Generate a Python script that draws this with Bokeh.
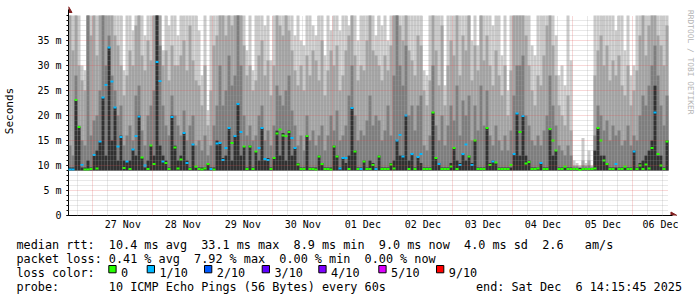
import re
from datetime import datetime, timezone, timedelta

import numpy as np
from bokeh.plotting import figure
from bokeh.models import (ColumnDataSource, FixedTicker, Grid, DatetimeTickFormatter, Range1d)
from bokeh.layouts import column, row
from bokeh.embed import file_html
from bokeh.resources import INLINE
from bokeh.core.properties import value

# ---------------------------------------------------------------- data
START = datetime(2025, 11, 26, 14, 15, 45, tzinfo=timezone.utc)
END = datetime(2025, 12, 6, 14, 15, 45, tzinfo=timezone.utc)
STEP_MINUTES = 72          # one smoke column = 72 min

SMOKE_FLOOR_MS = 9.0       # fastest ping (bottom of the smoke)
Y_MAX = 40                 # rigid upper limit of the graph

# top of the outermost (lightest) smoke band, ms (40.5 = off the chart)
smoke_light = [
    40.5, 40.5, 40.5, 40.5, 30, 29, 40.5, 40.5, 40.5, 40.5,
    40.5, 40.5, 40.5, 40.5, 40.5, 40.5, 40.5, 40.5, 29, 40.5,
    40.5, 37, 40.5, 40.5, 40.5, 36, 40.5, 40.5, 40.5, 40.5,
    40.5, 33, 40.5, 38, 40.5, 40.5, 36, 40.5, 40.5, 40.5,
    40.5, 40.5, 40.5, 37, 28, 40.5, 21, 40.5, 40.5, 40.5,
    40.5, 40.5, 40.5, 40.5, 40.5, 40.5, 40.5, 40.5, 40.5, 33,
    40.5, 29, 40.5, 40.5, 40.5, 38, 40.5, 31, 40.5, 40.5,
    40.5, 40.5, 40.5, 40.5, 40.5, 36, 40.5, 35, 34, 40.5,
    40.5, 38, 36, 40.5, 40.5, 32, 40.5, 37, 40.5, 40.5,
    37, 40.5, 40.5, 38, 40.5, 40.5, 35, 40.5, 40.5, 40.5,
    40.5, 40.5, 36, 40.5, 38, 40.5, 35, 40.5, 40.5, 40.5,
    40.5, 40.5, 40.5, 40.5, 40.5, 40.5, 40.5, 40.5, 29, 28,
    40.5, 40.5, 40.5, 40.5, 40.5, 26, 40.5, 40.5, 40.5, 40.5,
    40.5, 40.5, 40.5, 40.5, 35, 40.5, 34, 40.5, 40.5, 40.5,
    40.5, 38, 40.5, 40.5, 32, 40.5, 25, 40.5, 40.5, 40.5,
    40.5, 40.5, 40.5, 40.5, 34, 32, 40.5, 40.5, 40.5, 40.5,
    40.5, 40.5, 36, 28, 30, 26, 40.5, 31, 11, 10.5,
    10, 15.5, 10.5, 13, 10, 40.5, 40.5, 40.5, 40.5, 40.5,
    40.5, 40.5, 37, 40.5, 40.5, 33, 40.5, 28, 30, 40.5,
    40.5, 40.5, 40.5, 40.5, 40.5, 40.5, 40.5, 40.5, 40.5, 40.5,
]
# top of the second band
smoke_mid = [
    40.5, 33, 40.5, 30, 27, 25, 40.5, 36, 40.5, 32,
    40.5, 40.5, 40.5, 40.5, 40.5, 36, 34, 30, 24, 28,
    33, 30, 38, 40.5, 32, 29, 35, 31, 40.5, 40.5,
    40.5, 30, 33, 27, 34, 30, 30, 32, 35, 29,
    38, 31, 27, 26, 22, 30, 18, 25, 34, 36,
    40.5, 40.5, 36, 40.5, 38, 40.5, 40.5, 40.5, 34, 28,
    30, 25, 27, 32, 35, 28, 31, 24, 30, 40.5,
    38, 36, 40.5, 37, 33, 29, 26, 30, 25, 32,
    28, 33, 31, 27, 35, 24, 29, 33, 30, 34,
    25, 28, 33, 36, 40.5, 32, 27, 30, 29, 35,
    40.5, 33, 32, 30, 27, 32, 29, 34, 40.5, 40.5,
    38, 35, 40.5, 33, 31, 28, 36, 34, 25, 22,
    27, 40.5, 33, 26, 38, 22, 30, 35, 32, 40.5,
    28, 36, 33, 40.5, 27, 34, 29, 40.5, 31, 36,
    30, 26, 33, 28, 24, 30, 20, 29, 40.5, 40.5,
    40.5, 40.5, 36, 30, 25, 22, 28, 26, 32, 38,
    40.5, 34, 28, 22, 20, 18, 24, 17, 10, 10,
    9.8, 11, 10, 11, 9.8, 28, 33, 36, 30, 34,
    27, 31, 28, 32, 26, 24, 30, 22, 25, 29,
    36, 40.5, 32, 38, 40.5, 40.5, 36, 34, 30, 38,
]
# top of the third band
smoke_dark = [
    14, 12, 28, 18, 15, 14, 40.5, 16, 19, 20,
    25, 40.5, 30, 36, 28, 25, 20, 22, 14, 16,
    18, 15, 24, 26, 17, 14, 20, 22, 25, 40.5,
    34, 22, 18, 16, 24, 20, 18, 16, 21, 15,
    18, 20, 14, 15, 13, 16, 12, 14, 18, 22,
    30, 22, 25, 32, 26, 28, 40.5, 30, 20, 16,
    18, 15, 16, 20, 22, 15, 17, 14, 18, 26,
    24, 22, 25, 28, 21, 18, 14, 16, 13, 20,
    15, 17, 14, 16, 18, 13, 16, 20, 17, 21,
    15, 16, 18, 24, 30, 20, 15, 17, 16, 19,
    24, 18, 20, 19, 15, 17, 22, 16, 28, 40.5,
    30, 26, 34, 20, 22, 17, 22, 24, 14, 13,
    16, 30, 18, 15, 20, 14, 18, 22, 19, 26,
    16, 23, 20, 24, 15, 22, 17, 26, 18, 25,
    16, 14, 18, 15, 13, 16, 13, 17, 24, 30,
    30, 32, 20, 18, 15, 14, 16, 14, 17, 20,
    28, 22, 18, 14, 13, 12, 14, 12, 9.8, 9.8,
    9.6, 10, 9.8, 10, 9.6, 16, 22, 20, 17, 19,
    15, 18, 16, 17, 14, 15, 18, 14, 16, 15,
    20, 24, 22, 26, 30, 34, 28, 22, 18, 24,
]
# top of the innermost (darkest) band
smoke_core = [
    9.6, 9.6, 23.1, 17.7, 9.6, 9.6, 11, 9.6, 12.1, 13,
    14.8, 23.6, 12, 33.6, 15, 21.6, 11, 16, 11, 10.8,
    11, 13.2, 12, 20, 11.6, 9.6, 11, 14, 12, 40.5,
    14, 12, 11, 9.6, 20, 14, 11, 12, 16.5, 11,
    9.6, 14.2, 9.6, 9.6, 9.6, 9.6, 10.3, 9.6, 9.6, 15,
    14.5, 11.5, 12, 17.5, 11, 16, 22.3, 12, 13.8, 9.6,
    14, 9.6, 12.8, 11, 17.5, 11, 11.5, 9.6, 11.5, 17,
    12, 16.5, 11, 17, 12, 13.5, 10.5, 9.6, 9.6, 16,
    9.6, 9.6, 9.6, 12, 10.5, 9.6, 9.6, 9.6, 14, 12,
    9.6, 11.5, 10.5, 12, 21.5, 13, 9.6, 9.6, 11, 9.6,
    11, 10.5, 9.6, 12, 9.6, 9.6, 9.6, 10.5, 11, 15,
    12, 12, 20, 11, 12.3, 9.6, 11.7, 10.5, 9.6, 9.6,
    9.6, 20.6, 11.5, 10.5, 9.6, 9.6, 9.6, 10.5, 13.5, 11,
    10.5, 12.3, 11, 12, 10.5, 15, 9.6, 9.6, 9.6, 17.5,
    10.5, 11, 10.5, 9.6, 9.6, 9.6, 9.6, 9.6, 12.3, 20.4,
    12, 20, 12, 11, 9.6, 9.6, 9.6, 10.5, 9.6, 9.6,
    17.3, 12, 13, 9.6, 9.6, 9.6, 9.6, 9.6, 9.5, 9.5,
    9.5, 9.5, 9.5, 9.5, 9.5, 13, 17.5, 12, 12, 10.5,
    9.6, 9.6, 9.6, 9.6, 9.6, 9.6, 9.6, 9.6, 13, 9.6,
    10.5, 11, 12, 13, 15, 26, 12, 12, 9.6, 15,
]
# median rtt, ms
median_rtt = [
    9.2, 9.2, 23.1, 17.7, 10.1, 9.2, 9.2, 9.3, 12.1, 9.4,
    14.8, 23.6, 26.1, 33.6, 26.8, 21.6, 13.8, 15.7, 9.5, 10.8,
    9.3, 13.2, 15.9, 19.8, 11.6, 10.0, 9.3, 14.0, 10.3, 30.7,
    26.9, 10.8, 10.5, 9.3, 19.7, 13.6, 9.4, 11.2, 16.5, 10.5,
    9.3, 14.2, 9.8, 9.3, 9.2, 9.4, 10.3, 9.3, 9.2, 14.4,
    14.5, 11.1, 13.5, 17.5, 14.5, 15.9, 22.3, 16.7, 13.8, 9.3,
    13.8, 9.3, 12.8, 13.5, 17.5, 11.3, 11.1, 9.3, 11.5, 16.4,
    17.2, 16.0, 15.9, 16.7, 15.5, 13.5, 10.2, 9.3, 9.3, 15.9,
    9.3, 9.3, 9.2, 11.8, 10.3, 9.3, 9.3, 9.2, 13.8, 11.8,
    9.4, 11.5, 11.5, 9.3, 21.5, 12.8, 9.3, 9.3, 10.8, 9.3,
    9.3, 10.1, 9.3, 11.8, 9.3, 9.3, 9.3, 10.2, 9.4, 15.0,
    16.1, 11.8, 20.0, 9.3, 12.3, 9.3, 11.7, 12.3, 9.3, 9.3,
    9.3, 20.6, 11.5, 10.3, 9.3, 9.3, 9.3, 9.8, 13.5, 9.3,
    10.1, 12.3, 14.2, 11.8, 10.1, 15.0, 9.3, 9.3, 9.3, 17.5,
    10.1, 10.8, 10.6, 9.3, 9.3, 9.3, 9.3, 10.1, 12.3, 20.4,
    16.7, 19.9, 10.4, 10.7, 9.3, 9.3, 9.4, 10.5, 9.3, 9.3,
    17.3, 15.0, 13.0, 9.3, 9.3, 9.8, 9.3, 9.3, 9.3, 9.3,
    9.1, 9.3, 9.3, 9.3, 9.3, 9.4, 17.5, 15.0, 11.0, 10.3,
    9.3, 9.3, 10.3, 9.3, 9.3, 9.8, 9.3, 9.3, 12.8, 9.3,
    10.0, 9.3, 10.2, 9.4, 13.5, 20.6, 12.3, 10.0, 9.3, 14.8,
]
# lost pings out of 10
lost_pings = [
    1, 1, 0, 0, 1, 0, 0, 0, 1, 0,
    1, 1, 1, 1, 1, 1, 1, 1, 0, 1,
    0, 1, 1, 1, 0, 1, 0, 0, 0, 1,
    1, 1, 0, 0, 1, 0, 0, 0, 1, 1,
    0, 1, 0, 0, 0, 0, 0, 1, 0, 1,
    1, 1, 1, 1, 0, 1, 1, 1, 0, 0,
    0, 0, 0, 1, 1, 1, 1, 0, 0, 0,
    0, 0, 0, 0, 1, 1, 0, 0, 0, 0,
    0, 0, 0, 0, 0, 0, 0, 0, 0, 0,
    1, 1, 1, 0, 1, 0, 0, 1, 0, 0,
    0, 0, 1, 0, 0, 0, 0, 0, 0, 1,
    1, 1, 1, 0, 1, 0, 1, 1, 0, 0,
    0, 0, 0, 1, 0, 0, 0, 0, 0, 0,
    1, 1, 1, 0, 1, 0, 0, 0, 0, 0,
    0, 1, 0, 0, 0, 0, 0, 0, 1, 1,
    0, 1, 0, 0, 0, 0, 0, 1, 0, 0,
    0, 0, 0, 0, 0, 0, 0, 0, 0, 0,
    0, 0, 0, 0, 0, 0, 0, 0, 0, 0,
    0, 0, 1, 0, 0, 0, 0, 0, 1, 0,
    0, 0, 0, 0, 0, 1, 0, 0, 0, 0,
]

loss_levels = [0, 1, 2, 3, 4, 5, 9]
loss_labels = ["0", "1/10", "2/10", "3/10", "4/10", "5/10", "9/10"]
loss_colors = ["#26ff00", "#00b8ff", "#0059ff", "#5e00ff", "#7e00ff", "#dd00ff", "#ff0000"]

y_ticks = [0, 5, 10, 15, 20, 25, 30, 35]
y_tick_labels = ["0", "5 m", "10 m", "15 m", "20 m", "25 m", "30 m", "35 m"]

legend_rows = [
    "median rtt:  10.4 ms avg  33.1 ms max  8.9 ms min  9.0 ms now  4.0 ms sd  2.6   am/s",
    "packet loss: 0.41 % avg  7.92 % max  0.00 % min  0.00 % now",
    "loss color:",
    "probe:       10 ICMP Echo Pings (56 Bytes) every 60s",
]
end_text = "end: Sat Dec  6 14:15:45 2025"
watermark = "RRDTOOL / TOBI OETIKER"

N = len(median_rtt)
for arr in (smoke_light, smoke_mid, smoke_dark, smoke_core, lost_pings):
    assert len(arr) == N

# ---------------------------------------------------------------- helpers
def ms(dt):
    return dt.timestamp() * 1000.0

def clip(arr):
    return [min(v, Y_MAX) for v in arr]

lefts = [ms(START + timedelta(minutes=STEP_MINUTES * i)) for i in range(N)]
rights = [ms(START + timedelta(minutes=STEP_MINUTES * (i + 1))) for i in range(N)]
color_of = dict(zip(loss_levels, loss_colors))

src = ColumnDataSource(dict(
    left=lefts, right=rights, floor=[SMOKE_FLOOR_MS] * N,
    light=clip(smoke_light), mid=clip(smoke_mid), dark=clip(smoke_dark),
    core=clip(smoke_core), median=median_rtt,
    color=[color_of[v] for v in lost_pings],
))

MONO = "DejaVu Sans Mono"
PX_MS = 24 * 60 * 1000.0     # one pixel of the time axis, in ms
PX_Y = 0.2                   # one pixel of the value axis, in ms of rtt

# ---------------------------------------------------------------- chart
p = figure(frame_width=609, frame_height=209, x_axis_type="datetime",
           x_range=Range1d(ms(START), ms(END) + 9 * PX_MS),
           y_range=Range1d(0, Y_MAX + 9 * PX_Y),
           output_backend="svg", toolbar_location=None,
           min_border_left=66, min_border_right=1, min_border_top=6,
           min_border_bottom=17, background_fill_color="white",
           border_fill_color="white")
p.outline_line_color = None
p.xgrid.visible = False
p.ygrid.visible = False

for key, col in [("light", "#cacaca"), ("mid", "#a4a4a4"),
                 ("dark", "#7e7e7e"), ("core", "#323232")]:
    p.quad(left="left", right="right", bottom="floor", top=key, source=src,
           fill_color=col, line_color=None)

# grid drawn over the smoke, as rrdtool does
day0 = datetime(2025, 11, 27, tzinfo=timezone.utc)
midnights = [ms(day0 + timedelta(days=d)) for d in range(10)]
six_hours = [ms(datetime(2025, 11, 26, 18, tzinfo=timezone.utc) + timedelta(hours=6 * k))
             for k in range(40)]
six_hours = [t for t in six_hours if t not in midnights and t < ms(END)]
noons = [ms(day0 + timedelta(days=d, hours=12)) for d in range(10)]
minor_y = [v for v in range(1, Y_MAX) if v % 5]
major_y = [v for v in range(5, Y_MAX, 5)]

def add_grid(dim, ticks, color, alpha):
    cross = (0, Y_MAX) if dim == 0 else (ms(START), ms(END))
    g = Grid(dimension=dim, ticker=FixedTicker(ticks=ticks), grid_line_color=color,
             grid_line_alpha=alpha, grid_line_dash="1 1", grid_line_width=1,
             cross_bounds=cross, level="overlay")
    p.add_layout(g)

add_grid(1, minor_y, "#9a9a9a", 0.45)
add_grid(0, six_hours, "#9a9a9a", 0.45)
add_grid(1, major_y, "#de4f4f", 0.45)
add_grid(0, midnights, "#de4f4f", 0.45)

p.segment(x0="left", x1="right", y0="median", y1="median", line_color="color",
          line_width=2, source=src, level="overlay")

# axes
ya = p.yaxis[0]
ya.ticker = FixedTicker(ticks=y_ticks, minor_ticks=list(range(0, Y_MAX + 1)))
ya.major_label_overrides = dict(zip(y_ticks, y_tick_labels))
ya.major_label_text_font = MONO
ya.major_label_text_font_size = "10px"
ya.major_label_text_color = "black"
ya.major_tick_in = 0
ya.major_tick_out = 2
ya.minor_tick_in = 0
ya.minor_tick_out = 2
ya.major_label_standoff = 5
ya.axis_label = "Seconds"
ya.axis_label_text_font = MONO
ya.axis_label_text_font_size = "11px"
ya.axis_label_text_font_style = "normal"
ya.axis_label_text_color = "black"
ya.axis_label_standoff = 18
ya.axis_line_color = "black"
ya.bounds = (0, Y_MAX + 6 * PX_Y)

xa = p.xaxis[0]
xa.ticker = FixedTicker(ticks=noons)
fmt = "%d %b"
xa.formatter = DatetimeTickFormatter(days=fmt, hours=fmt, hourmin=fmt, minutes=fmt,
                                     months=fmt, years=fmt)
xa.major_label_text_font = MONO
xa.major_label_text_font_size = "10px"
xa.major_label_text_color = "black"
xa.major_tick_in = 0
xa.major_tick_out = 0
xa.minor_tick_in = 0
xa.minor_tick_out = 0
xa.major_label_standoff = 3
xa.axis_line_color = "black"
xa.bounds = (ms(START), ms(END) + 4 * PX_MS)

# axis arrow heads
ARROW = "#801f1f"
p.scatter(x=[ms(START)], y=[Y_MAX + 5 * PX_Y], marker="triangle", size=7,
          fill_color=ARROW, line_color=ARROW)
p.scatter(x=[ms(END) + 4.5 * PX_MS], y=[0], marker="triangle", size=7, angle=-np.pi / 2,
          fill_color=ARROW, line_color=ARROW)

# ---------------------------------------------------------------- watermark
side = figure(width=21, height=232, x_range=Range1d(0, 21), y_range=Range1d(0, 232),
              output_backend="svg", toolbar_location=None, min_border=0,
              x_axis_location=None, y_axis_location=None)
side.grid.visible = False
side.outline_line_color = None
side.text(x=[12], y=[228], text=[watermark], angle=-np.pi / 2, text_align="left",
          text_baseline="middle", text_font=value(MONO), text_font_size="7.9px",
          text_color="#b3b3b3")

# ---------------------------------------------------------------- legend
LEG_H = 65
leg = figure(width=697, height=LEG_H, x_range=Range1d(0, 697), y_range=Range1d(0, LEG_H),
             output_backend="svg", toolbar_location=None, min_border=0,
             x_axis_location=None, y_axis_location=None)
leg.grid.visible = False
leg.outline_line_color = None

def page_y(y):
    return 297 - y

X0 = 16
CW = 7.104
FS = "11.8px"
row_baselines = [244, 258.3, 272.3, 286.7]
tx, ty, tt = [], [], []
for line, base in zip(legend_rows, row_baselines):
    for m in re.finditer(r"\S+(?: \S+)*", line):
        tx.append(X0 + m.start() * CW)
        ty.append(page_y(base))
        tt.append(m.group(0))
END_X = 475.5
for m in re.finditer(r"\S+(?: \S+)*", end_text):
    tx.append(END_X + m.start() * CW)
    ty.append(page_y(row_baselines[3]))
    tt.append(m.group(0))

box_left = [108.3, 146.7, 204.0, 261.7, 318.3, 378.3, 436.0]
BOX = 7.3
for bx, lab in zip(box_left, loss_labels):
    tx.append(bx + 12.3)
    ty.append(page_y(row_baselines[2]))
    tt.append(lab)

leg.text(x=tx, y=ty, text=tt, text_font=value(MONO), text_font_size=FS,
         text_baseline="alphabetic", text_align="left", text_color="black")
leg.rect(x=[bx + BOX / 2 for bx in box_left], y=[page_y(265 + BOX / 2)] * len(box_left),
         width=BOX, height=BOX, fill_color=loss_colors, line_color="black", line_width=1)

layout = column(row(p, side), leg)
open("out.html", "w").write(file_html(layout, INLINE))
